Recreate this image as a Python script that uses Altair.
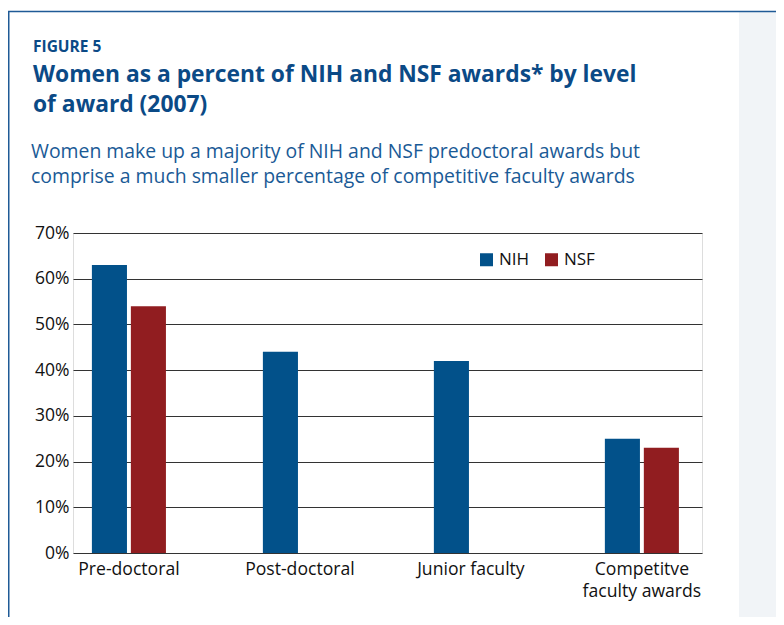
import altair as alt
import pandas as pd

categories = ["Pre-doctoral", "Post-doctoral", "Junior faculty", "Competitve faculty awards"]
nih_values = [63, 44, 42, 25]
nsf_values = [54, None, None, 23]
series = ["NIH", "NSF"]
colors = ["#02518a", "#911d20"]
y_ticks = [0, 10, 20, 30, 40, 50, 60, 70]

fig_label = "FIGURE 5"
title_lines = ["Women as a percent of NIH and NSF awards* by level", "of award (2007)"]
subtitle_lines = ["Women make up a majority of NIH and NSF predoctoral awards but",
                  "comprise a much smaller percentage of competitive faculty awards"]

rows = []
for c, v in zip(categories, nih_values):
    rows.append({"category": c, "agency": "NIH", "value": v})
for c, v in zip(categories, nsf_values):
    if v is not None:
        rows.append({"category": c, "agency": "NSF", "value": v})
df = pd.DataFrame(rows)

FONT = "Open Sans"
TITLE_COLOR = "#0b4a86"

W, H = 629, 320
PAD_L, PAD_T = 65, 225
SVG_W, SVG_H = 768, 609

bars = alt.Chart(df).mark_bar().encode(
    x=alt.X("category:N", sort=categories,
            scale=alt.Scale(paddingInner=0.567, paddingOuter=0.1228, align=0.45),
            axis=alt.Axis(title=None, labelAngle=0, domain=False, ticks=False,
                          labelPadding=7, labelFontSize=17.6, labelColor="#111",
                          labelFont=FONT, labelLineHeight=22,
                          labelExpr="datum.value == 'Competitve faculty awards' ? ['Competitve', 'faculty awards'] : datum.value")),
    xOffset=alt.XOffset("agency:N", sort=series, scale=alt.Scale(paddingInner=0.1, domain=series)),
    y=alt.Y("value:Q", scale=alt.Scale(domain=[0, 70]),
            axis=alt.Axis(title=None, values=y_ticks, domain=False, ticks=False,
                          labelPadding=4, labelFontSize=17.5, labelColor="#111",
                          labelFont=FONT, grid=True, gridColor="#333333", gridWidth=1,
                          labelExpr="datum.value + '%'")),
    color=alt.Color("agency:N", sort=series,
                    scale=alt.Scale(domain=series, range=colors),
                    legend=alt.Legend(title=None, orient="none", legendX=405, legendY=18,
                                      direction="horizontal", symbolType="square",
                                      symbolSize=169, symbolStrokeWidth=0,
                                      labelFontSize=17, labelFont=FONT, labelColor="#111",
                                      columnPadding=13, padding=0, symbolOpacity=1)),
)

one = alt.Data(values=[{}])
panel = alt.Chart(one).mark_rect(color="#f1f4f7", clip=False).encode(
    x=alt.value(731 - PAD_L), x2=alt.value(SVG_W - PAD_L),
    y=alt.value(4 - PAD_T), y2=alt.value(SVG_H - PAD_T),
)
top_border = alt.Chart(one).mark_rule(color="#1f5a96", strokeWidth=1.5, clip=False).encode(
    x=alt.value(-PAD_L), x2=alt.value(SVG_W - PAD_L),
    y=alt.value(3.5 - PAD_T),
)
left_border = alt.Chart(one).mark_rule(color="#1f5a96", strokeWidth=1.5, clip=False).encode(
    x=alt.value(0.75 - PAD_L),
    y=alt.value(3.5 - PAD_T), y2=alt.value(SVG_H - PAD_T),
)
fig_text = alt.Chart(alt.Data(values=[{"t": fig_label}])).mark_text(
    align="left", baseline="alphabetic", fontSize=15.5, fontWeight="bold",
    font=FONT, color=TITLE_COLOR, clip=False,
).encode(text="t:N", x=alt.value(25 - PAD_L), y=alt.value(44 - PAD_T))

title_text = alt.Chart(alt.Data(values=[{"t": "\n".join(title_lines)}])).mark_text(
    align="left", baseline="alphabetic", fontSize=22.8, fontWeight="bold",
    font=FONT, color=TITLE_COLOR, clip=False, lineBreak="\n", lineHeight=30,
).encode(text="t:N", x=alt.value(25 - PAD_L), y=alt.value(74 - PAD_T))

subtitle_text = alt.Chart(alt.Data(values=[{"t": "\n".join(subtitle_lines)}])).mark_text(
    align="left", baseline="alphabetic", fontSize=19.4, fontWeight="normal",
    font=FONT, color="#1a5a96", clip=False, lineBreak="\n", lineHeight=25,
).encode(text="t:N", x=alt.value(23 - PAD_L), y=alt.value(150 - PAD_T))

chart = alt.layer(panel, top_border, left_border, fig_text, title_text, subtitle_text, bars).properties(
    width=W, height=H,
    padding={"left": PAD_L, "top": PAD_T, "right": SVG_W - PAD_L - W, "bottom": SVG_H - PAD_T - H},
    autosize=alt.AutoSizeParams(type="none"),
).configure_view(stroke=None).configure(background="white")

chart.save("out.html", embed_options={"renderer": "svg", "actions": False})
